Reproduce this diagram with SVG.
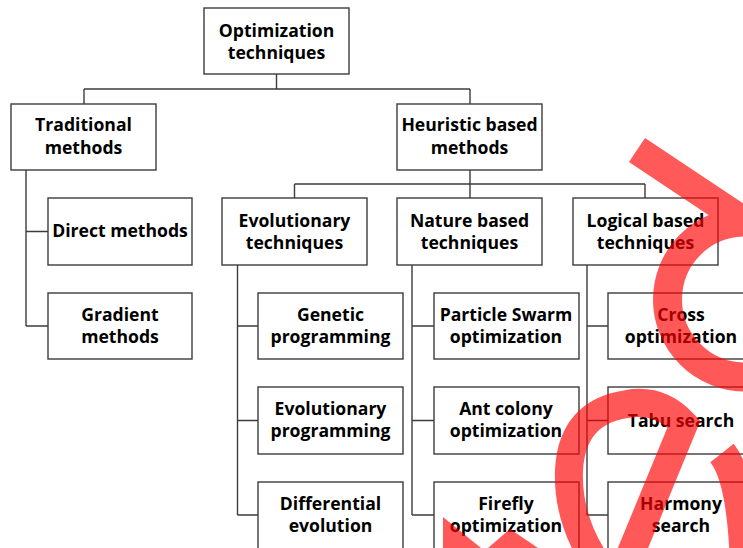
<svg xmlns="http://www.w3.org/2000/svg" width="743" height="548" viewBox="0 0 743 548">
  <style>
    .box { fill: #ffffff; stroke: #3c3c3c; stroke-width: 1.4; }
    .lbl { font-family: "Open Sans", "Noto Sans", "Liberation Sans", sans-serif; font-weight: 700; font-size: 17.6px; fill: #000000; text-anchor: middle; }
    .con { fill: none; stroke: #3c3c3c; stroke-width: 1.4; }
    .wm { fill: none; stroke: #ff0000; }
  </style>
  <rect x="0" y="0" width="743" height="548" fill="#ffffff"/>

  <g id="connectors">
    <path class="con" d="M276.5,74 V89 M84,89 H470 M84,89 V104 M470,89 V104"/>
    <path class="con" d="M470,170 V184 M294.5,184 H645 M294.5,184 V198 M470,184 V198 M645,184 V198"/>
    <path class="con" d="M26,170 V326 M26,231.5 H48 M26,326 H48"/>
    <path class="con" d="M237.5,265 V515 M237.5,326 H258 M237.5,420.5 H258 M237.5,515 H258"/>
    <path class="con" d="M412,265 V515 M412,326 H434 M412,420.5 H434 M412,515 H434"/>
    <path class="con" d="M587,265 V515 M587,326 H608 M587,420.5 H608 M587,515 H608"/>
  </g>

  <g id="n-root">
    <rect class="box" x="204" y="8" width="145" height="66"/>
    <text class="lbl"><tspan x="276.5" y="36.5">Optimization</tspan><tspan x="276.5" y="59">techniques</tspan></text>
  </g>
  <g id="n-traditional">
    <rect class="box" x="11" y="104" width="145" height="66"/>
    <text class="lbl"><tspan x="83.5" y="131">Traditional</tspan><tspan x="83.5" y="153.5">methods</tspan></text>
  </g>
  <g id="n-heuristic">
    <rect class="box" x="397" y="104" width="145" height="66"/>
    <text class="lbl"><tspan x="469.5" y="131">Heuristic based</tspan><tspan x="469.5" y="153.5">methods</tspan></text>
  </g>
  <g id="n-direct">
    <rect class="box" x="48" y="198" width="144" height="67"/>
    <text class="lbl" x="120" y="237">Direct methods</text>
  </g>
  <g id="n-gradient">
    <rect class="box" x="48" y="293" width="144" height="66"/>
    <text class="lbl"><tspan x="120" y="320.5">Gradient</tspan><tspan x="120" y="343">methods</tspan></text>
  </g>
  <g id="n-evolutionary">
    <rect class="box" x="222" y="198" width="145" height="67"/>
    <text class="lbl"><tspan x="294.5" y="226.5">Evolutionary</tspan><tspan x="294.5" y="249">techniques</tspan></text>
  </g>
  <g id="n-nature">
    <rect class="box" x="397" y="198" width="145" height="67"/>
    <text class="lbl"><tspan x="469.5" y="226.5">Nature based</tspan><tspan x="469.5" y="249">techniques</tspan></text>
  </g>
  <g id="n-logical">
    <rect class="box" x="573" y="198" width="145" height="67"/>
    <text class="lbl"><tspan x="645.5" y="226.5">Logical based</tspan><tspan x="645.5" y="249">techniques</tspan></text>
  </g>

  <g id="n-genetic">
    <rect class="box" x="258" y="293" width="145" height="66"/>
    <text class="lbl"><tspan x="330.5" y="320.5">Genetic</tspan><tspan x="330.5" y="343">programming</tspan></text>
  </g>
  <g id="n-evoprog">
    <rect class="box" x="258" y="387" width="145" height="67"/>
    <text class="lbl"><tspan x="330.5" y="414.5">Evolutionary</tspan><tspan x="330.5" y="437">programming</tspan></text>
  </g>
  <g id="n-differential">
    <rect class="box" x="258" y="482" width="145" height="80"/>
    <text class="lbl"><tspan x="330.5" y="509.5">Differential</tspan><tspan x="330.5" y="532">evolution</tspan></text>
  </g>

  <g id="n-pso">
    <rect class="box" x="434" y="293" width="145" height="66"/>
    <text class="lbl"><tspan x="506" y="320.5">Particle Swarm</tspan><tspan x="506" y="343">optimization</tspan></text>
  </g>
  <g id="n-ant">
    <rect class="box" x="434" y="387" width="145" height="67"/>
    <text class="lbl"><tspan x="506" y="414.5">Ant colony</tspan><tspan x="506" y="437">optimization</tspan></text>
  </g>
  <g id="n-firefly">
    <rect class="box" x="434" y="482" width="145" height="80"/>
    <text class="lbl"><tspan x="506" y="509.5">Firefly</tspan><tspan x="506" y="532">optimization</tspan></text>
  </g>

  <g id="n-cross">
    <rect class="box" x="608" y="293" width="145" height="66"/>
    <text class="lbl"><tspan x="681" y="320.5">Cross</tspan><tspan x="681" y="343">optimization</tspan></text>
  </g>
  <g id="n-tabu">
    <rect class="box" x="608" y="387" width="145" height="67"/>
    <text class="lbl" x="681" y="427">Tabu search</text>
  </g>
  <g id="n-harmony">
    <rect class="box" x="608" y="482" width="145" height="80"/>
    <text class="lbl"><tspan x="681" y="509.5">Harmony</tspan><tspan x="681" y="532">search</tspan></text>
  </g>

  <g id="watermark" opacity="0.65">
    <path class="wm" stroke-width="29" d="M637,150 L745,222 A77,77 0 0 0 745,377"/>
    <path class="wm" stroke-width="28" stroke-linejoin="miter" d="M626,565 L684,424 Q660,398 627,404 Q572,412 569,470 Q567,520 598,565"/>
    <path class="wm" stroke-width="30" d="M722,453 Q742,478 745,565"/>
    <polygon fill="#ff0000" points="443,517 481,548 443,548"/>
    <polygon fill="#ff0000" points="488,548 510,529 538,548"/>
  </g>
</svg>
